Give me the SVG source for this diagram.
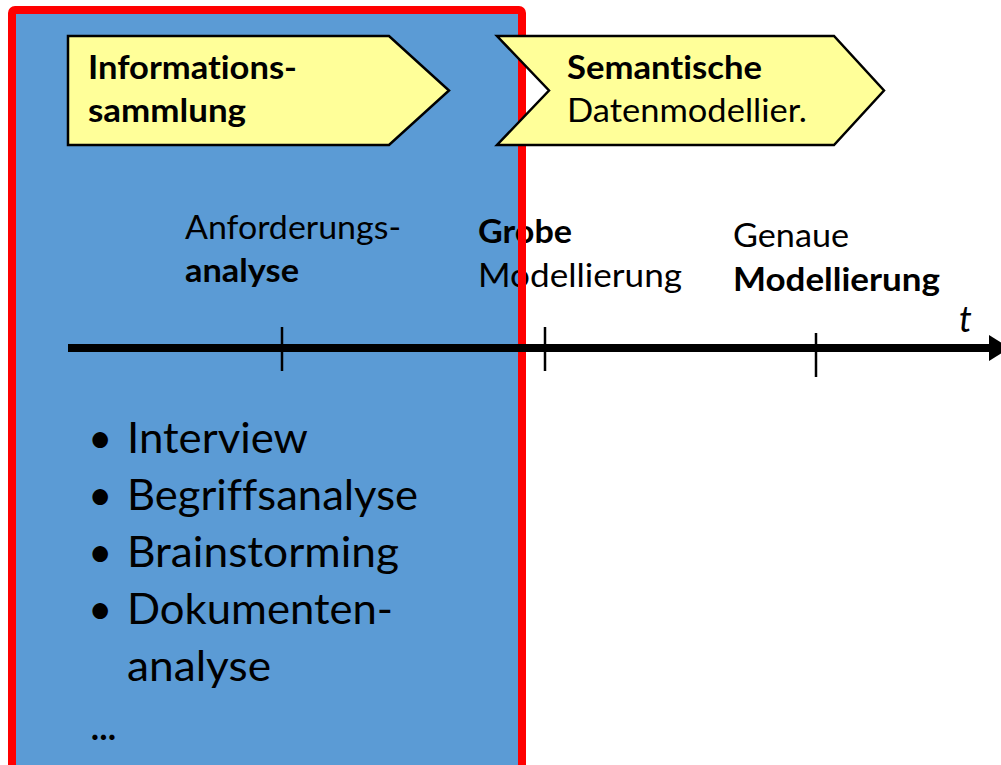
<svg xmlns="http://www.w3.org/2000/svg" width="1001" height="765" viewBox="0 0 1001 765">
  <style>
    .t { font-family: Lato, "Open Sans", "Liberation Sans", sans-serif; fill: #000; font-variant-ligatures: none; font-feature-settings: "liga" 0, "dlig" 0; }
    .b { font-weight: bold; }
    .hd { font-size: 33px; }
    .md { font-size: 32px; }
    .li { font-size: 42px; }
    .phase { fill: #FFFF99; stroke: #000; stroke-width: 2.5; stroke-linejoin: miter; }
    .tick { stroke: #000; stroke-width: 2.5; }
  </style>

  <!-- highlighted phase area -->
  <rect id="phase-area-fill" x="12" y="10" width="510" height="760" fill="#5B9BD5"/>

  <!-- milestone labels -->
  <g id="label-anforderung">
    <text class="t md" x="185" y="239" textLength="216" lengthAdjust="spacingAndGlyphs">Anforderungs-</text>
    <text class="t md b" x="185" y="282" textLength="114" lengthAdjust="spacingAndGlyphs">analyse</text>
  </g>
  <g id="label-grob">
    <text class="t md b" x="478" y="243" textLength="94" lengthAdjust="spacingAndGlyphs">Grobe</text>
    <text class="t md" x="478" y="287" textLength="204" lengthAdjust="spacingAndGlyphs">Modellierung</text>
  </g>
  <g id="label-genau">
    <text class="t md" x="733" y="247" textLength="116" lengthAdjust="spacingAndGlyphs">Genaue</text>
    <text class="t md b" x="733" y="291" textLength="207" lengthAdjust="spacingAndGlyphs">Modellierung</text>
  </g>

  <!-- method list -->
  <g id="methods">
    <text class="t li" x="88" y="453">•</text>
    <text class="t li" x="127" y="453" textLength="181" lengthAdjust="spacingAndGlyphs">Interview</text>
    <text class="t li" x="88" y="510">•</text>
    <text class="t li" x="127" y="510" textLength="291" lengthAdjust="spacingAndGlyphs">Begriffsanalyse</text>
    <text class="t li" x="88" y="567">•</text>
    <text class="t li" x="127" y="567" textLength="272" lengthAdjust="spacingAndGlyphs">Brainstorming</text>
    <text class="t li" x="88" y="624">•</text>
    <text class="t li" x="127" y="624" textLength="266" lengthAdjust="spacingAndGlyphs">Dokumenten-</text>
    <text class="t li" x="127" y="681" textLength="144" lengthAdjust="spacingAndGlyphs">analyse</text>
    <text class="t li" x="90" y="740" textLength="27" lengthAdjust="spacing">...</text>
  </g>

  <!-- frame of the highlighted area -->
  <rect id="phase-area-frame" x="12" y="10" width="510" height="760" rx="3" fill="none" stroke="#FF0000" stroke-width="8"/>

  <!-- phase arrows -->
  <g id="phase-informationssammlung">
    <polygon class="phase" points="68,36 389,36 449,90.5 389,145 68,145"/>
    <text class="t hd b" x="88" y="79" textLength="209" lengthAdjust="spacingAndGlyphs">Informations-</text>
    <text class="t hd b" x="88" y="122" textLength="158" lengthAdjust="spacingAndGlyphs">sammlung</text>
  </g>
  <g id="phase-datenmodellierung">
    <polygon class="phase" points="497,36 834,36 884,90.5 834,145 497,145 549,90.5"/>
    <text class="t hd b" x="567" y="79" textLength="195" lengthAdjust="spacingAndGlyphs">Semantische</text>
    <text class="t hd" x="567" y="122" textLength="240" lengthAdjust="spacingAndGlyphs">Datenmodellier.</text>
  </g>

  <!-- time axis -->
  <g id="connectors">
    <line x1="68" y1="348" x2="992" y2="348" stroke="#000" stroke-width="8"/>
    <polygon points="989,335 1010,348 989,361" fill="#000"/>
    <line class="tick" x1="282" y1="327" x2="282" y2="371"/>
    <line class="tick" x1="545" y1="327" x2="545" y2="371"/>
    <line class="tick" x1="816" y1="333" x2="816" y2="377"/>
  </g>
  <text class="t" x="959" y="332" font-size="36" font-style="italic">t</text>
</svg>
